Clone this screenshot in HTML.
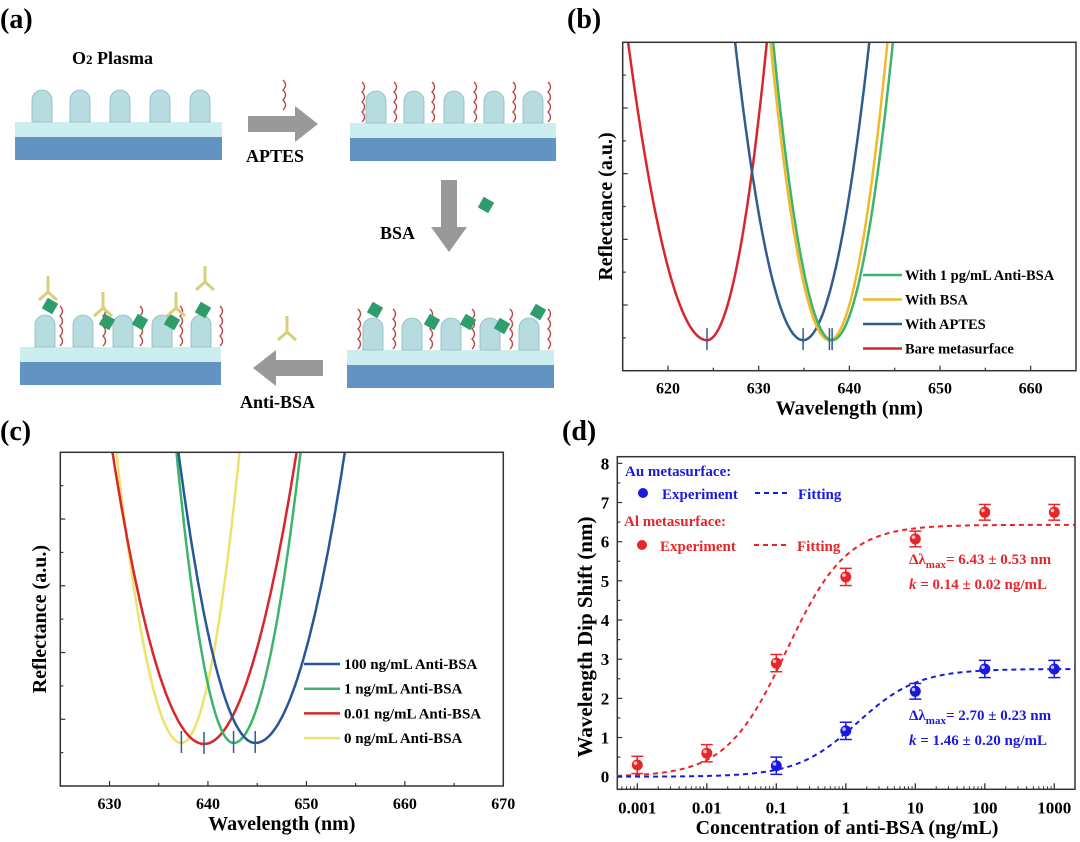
<!DOCTYPE html>
<html><head><meta charset="utf-8"><style>
html,body{margin:0;padding:0;background:#fff;}
svg{display:block;font-family:"Liberation Serif",serif;font-weight:bold;}
</style></head><body>
<svg id="fig" width="1080" height="842" viewBox="0 0 1080 842" xmlns="http://www.w3.org/2000/svg">
<g id="panelA">
<text x="0" y="28" font-size="28">(a)</text>
<text x="72" y="64" font-size="18">O<tspan font-size="13">2</tspan> Plasma</text>
<text x="246" y="162" font-size="18">APTES</text>
<text x="380" y="239" font-size="18">BSA</text>
<text x="240" y="408" font-size="18">Anti-BSA</text>
<polygon points="248,116 295,116 295,106 318,124 295,142 295,132 248,132" fill="#999"/>
<polygon points="441,180 457,180 457,227 467,227 449,252 431,227 441,227" fill="#999"/>
<polygon points="323,360 276,360 276,350 253,368 276,386 276,376 323,376" fill="#999"/>
</g>
<g id="panelB"></g>
<g id="panelC"></g>
<g id="panelD"></g>
</svg>
<script>
// ---------- Panel b data ----------
var bSeries = ["With 1 pg/mL Anti-BSA","With BSA","With APTES","Bare metasurface"];
var bColors = ["#3cb56a","#f2b82c","#2e5d8e","#d8262a"];
var bDip = [638.1, 637.8, 634.9, 624.3];
var bMin = [0.93, 0.93, 0.93, 0.93];
var bHwLeft = [6.5, 6.5, 7.5, 8.7];
var bHwRight = [6.7, 6.4, 7.3, 6.6];
var bXTicks = [620,630,640,650,660];
// ---------- Panel c data ----------
var cSeries = ["100 ng/mL Anti-BSA","1 ng/mL Anti-BSA","0.01 ng/mL Anti-BSA","0 ng/mL Anti-BSA"];
var cColors = ["#25579a","#3cb56a","#d8262a","#eee36a"];
var cDip = [644.8, 642.6, 639.6, 637.3];
var cMin = [1.29, 1.29, 1.26, 1.29];
var cHwLeft = [7.8, 5.8, 9.3, 6.6];
var cHwRight = [9.1, 6.8, 9.4, 5.9];
var cXTicks = [630,640,650,660,670];
// ---------- Panel d data ----------
var dConcAl = [0.001,0.01,0.1,1,10,100,1000];
var dShiftAl = [0.3,0.6,2.9,5.1,6.07,6.75,6.75];
var dErrAl = [0.22,0.22,0.22,0.22,0.2,0.2,0.2];
var dConcAu = [0.1,1,10,100,1000];
var dShiftAu = [0.28,1.17,2.18,2.75,2.75];
var dErrAu = [0.22,0.22,0.2,0.22,0.22];
var dFitAl = [6.43, 0.14];
var dFitAu = [2.75, 1.46];
var dXTickLabels = ["0.001","0.01","0.1","1","10","100","1000"];
var dYTicks = [0,1,2,3,4,5,6,7,8];

var NS="http://www.w3.org/2000/svg";
function mk(parent,tag,attrs,text){var e=document.createElementNS(NS,tag);for(var k in attrs)e.setAttribute(k,attrs[k]);if(text!==undefined)e.textContent=text;parent.appendChild(e);return e;}

function spectrumPanel(g,id,box,xmin,xmax,xTicks,series,colors,dip,mins,hwl,hwr,leg,yTitleX,label,labelPos){
  var L=box[0],R=box[1],T=box[2],B=box[3];
  function sx(v){return L+(v-xmin)/(xmax-xmin)*(R-L);}
  function sy(v){return B-v/10*(B-T);}
  var lab=mk(g,'text',{x:labelPos[0],y:labelPos[1],'font-size':28},label);
  
  
  var cp=mk(g,'clipPath',{id:'clip'+id});mk(cp,'rect',{x:L,y:T,width:R-L,height:B-T});
  for(var s=series.length-1;s>=0;s--){
    var pts=[];
    for(var x=xmin;x<=xmax;x+=0.05){
      var hw=x<dip[s]?hwl[s]:hwr[s];
      var r=mins[s]+(10-mins[s])*Math.pow((x-dip[s])/hw,2);
      if(r>10.5) continue;
      pts.push(sx(x).toFixed(1)+','+sy(r).toFixed(1));
    }
    var pl=mk(g,'polyline',{points:pts.join(' '),fill:'none',stroke:colors[s],'stroke-width':2.5,'clip-path':'url(#clip'+id+')'});
    
    
  }
  for(var s=0;s<series.length;s++){
    var m=mk(g,'line',{x1:sx(dip[s]),x2:sx(dip[s]),y1:sy(mins[s])-12,y2:sy(mins[s])+10,stroke:'#2e5d8e','stroke-width':1.5});
    
    
  }
  var fr=mk(g,'rect',{x:L,y:T,width:R-L,height:B-T,fill:'none',stroke:'#333','stroke-width':1.5});
  
  
  for(var i=0;i<=9;i++){
    var y=sy(i), len=(i%2===0)?5:3;
    var t=mk(g,'line',{x1:L,x2:L+len,y1:y,y2:y,stroke:'#333','stroke-width':1.2});
    
    
  }
  for(var i=0;i<xTicks.length;i++){
    var x=sx(xTicks[i]);
    mk(g,'line',{x1:x,x2:x,y1:B,y2:B-5,stroke:'#333','stroke-width':1.2});
    var xm=sx(xTicks[i]+5); if(xm<R) mk(g,'line',{x1:xm,x2:xm,y1:B,y2:B-3,stroke:'#333','stroke-width':1.2});
    var tl=mk(g,'text',{x:x,y:B+23,'font-size':16,'text-anchor':'middle'},String(xTicks[i]));
    
    
  }
  var xt=mk(g,'text',{x:(L+R)/2,y:B+44,'font-size':20,'text-anchor':'middle'},'Wavelength (nm)');
  
  
  var yt=mk(g,'text',{x:0,y:0,'font-size':20,'text-anchor':'middle',transform:'translate('+yTitleX+','+((T+B)/2)+') rotate(-90)'},'Reflectance (a.u.)');
  
  
  for(var s=0;s<series.length;s++){
    var y=leg[2]+s*leg[3];
    var le=mk(g,'g',{});
    
    
    mk(le,'line',{x1:leg[0],x2:leg[0]+leg[4],y1:y,y2:y,stroke:colors[s],'stroke-width':2.5});
    mk(le,'text',{x:leg[1],y:y+5,'font-size':leg[5]},series[s]);
  }
}
spectrumPanel(document.getElementById('panelB'),'b',[622.7,1076,42.3,370.7],615,665,bXTicks,bSeries,bColors,bDip,bMin,bHwLeft,bHwRight,[863,905,275,24.5,39,14.5],612,'(b)',[567,28]);
spectrumPanel(document.getElementById('panelC'),'c',[60.3,503.3,452.3,786],625,670,cXTicks,cSeries,cColors,cDip,cMin,cHwLeft,cHwRight,[304,344,664,24.7,36,15],46,'(c)',[0,440]);

// ---------- Panel d ----------
(function(){
  var g=document.getElementById('panelD');
  var L=617.3,R=1075,T=456.7,B=789.3;
  var y0=776.7,unit=39.17,x0=637.3,dec=69.5;
  function sx(c){return x0+(Math.log10(c)+3)*dec;}
  function sy(v){return y0-v*unit;}
  var lab=mk(g,'text',{x:562,y:440,'font-size':28},'(d)');
  
  
  var fr=mk(g,'rect',{x:L,y:T,width:R-L,height:B-T,fill:'none',stroke:'#333','stroke-width':1.5});
  
  
  for(var i=0;i<dYTicks.length;i++){
    var y=sy(dYTicks[i]);
    mk(g,'line',{x1:L,x2:L+5,y1:y,y2:y,stroke:'#333','stroke-width':1.2});
    if(i<dYTicks.length-1) mk(g,'line',{x1:L,x2:L+3,y1:sy(dYTicks[i]+0.5),y2:sy(dYTicks[i]+0.5),stroke:'#333','stroke-width':1.2});
    var tl=mk(g,'text',{x:L-8,y:y+6,'font-size':17,'text-anchor':'end'},String(dYTicks[i]));
    
    
  }
  for(var i=0;i<dXTickLabels.length;i++){
    var c=parseFloat(dXTickLabels[i]);var x=sx(c);
    mk(g,'line',{x1:x,x2:x,y1:B,y2:B-6,stroke:'#333','stroke-width':1.3});
    var tl=mk(g,'text',{x:x,y:B+24,'font-size':17,'text-anchor':'middle'},dXTickLabels[i]);
    
    
  }
  for(var e=-4;e<=3;e++){for(var m=2;m<=9;m++){var x=sx(m*Math.pow(10,e));if(x>L&&x<R)mk(g,'line',{x1:x,x2:x,y1:B,y2:B-3,stroke:'#333','stroke-width':1});}}
  var xt=mk(g,'text',{x:847,y:834,'font-size':20,'text-anchor':'middle'},'Concentration of anti-BSA (ng/mL)');
  
  
  var yt=mk(g,'text',{x:0,y:0,'font-size':21,'text-anchor':'middle',transform:'translate(592,637) rotate(-90)'},'Wavelength Dip Shift (nm)');
  
  
  function fit(p,col,name){
    var pts=[];
    for(var lc=-3.29;lc<=3.3;lc+=0.02){var c=Math.pow(10,lc);pts.push(sx(c).toFixed(1)+','+sy(p[0]*c/(p[1]+c)).toFixed(1));}
    var pl=mk(g,'polyline',{points:pts.join(' '),fill:'none',stroke:col,'stroke-width':2,'stroke-dasharray':'5,4'});
    
    
  }
  function pts(cs,vs,es,col,name){
    for(var i=0;i<cs.length;i++){
      var x=sx(cs[i]),y=sy(vs[i]),e=es[i]*unit;
      var pg=mk(g,'g',{});
      
      
      mk(pg,'line',{x1:x,x2:x,y1:y-e,y2:y+e,stroke:col,'stroke-width':1.5});
      mk(pg,'line',{x1:x-6,x2:x+6,y1:y-e,y2:y-e,stroke:col,'stroke-width':1.5});
      mk(pg,'line',{x1:x-6,x2:x+6,y1:y+e,y2:y+e,stroke:col,'stroke-width':1.5});
      mk(pg,'circle',{cx:x,cy:y,r:5.5,fill:col});
      mk(pg,'circle',{cx:x-1.8,cy:y-1.8,r:1.8,fill:'#fff',opacity:0.7});
    }
  }
  fit(dFitAl,'#e8262a','fit-al');
  fit(dFitAu,'#1a1adf','fit-au');
  pts(dConcAl,dShiftAl,dErrAl,'#e8262a','point-al');
  pts(dConcAu,dShiftAu,dErrAu,'#1a1adf','point-au');
  var blue='#1a1adf',red='#e8262a';
  function t(x,y,s,col,txt,name){var e=mk(g,'text',{x:x,y:y,'font-size':s,fill:col},txt);return e;}
  t(625,476,15,blue,'Au metasurface:','legend-title-au');
  mk(g,'circle',{cx:643,cy:493,r:5,fill:blue});
  t(662,499,15,blue,'Experiment','legend-experiment-au');
  mk(g,'line',{x1:755,x2:790,y1:493,y2:493,stroke:blue,'stroke-width':2,'stroke-dasharray':'5,4'});
  t(798,499,15,blue,'Fitting','legend-fitting-au');
  t(624,526,15,red,'Al  metasurface:','legend-title-al');
  mk(g,'circle',{cx:642,cy:545,r:5,fill:red});
  t(660,551,15,red,'Experiment','legend-experiment-al');
  mk(g,'line',{x1:754,x2:788,y1:545,y2:545,stroke:red,'stroke-width':2,'stroke-dasharray':'5,4'});
  t(797,551,15,red,'Fitting','legend-fitting-al');
  var a1=t(909,564,15,red,'','annotation-al-max');a1.innerHTML='Δλ<tspan font-size="11" dy="4">max</tspan><tspan dy="-4">= 6.43 ± 0.53 nm</tspan>';
  var a2=t(909,589,15,red,'','annotation-al-k');a2.innerHTML='<tspan font-style="italic">k</tspan> = 0.14 ± 0.02 ng/mL';
  var a3=t(909,720,15,blue,'','annotation-au-max');a3.innerHTML='Δλ<tspan font-size="11" dy="4">max</tspan><tspan dy="-4">= 2.70 ± 0.23 nm</tspan>';
  var a4=t(909,745,15,blue,'','annotation-au-k');a4.innerHTML='<tspan font-style="italic">k</tspan> = 1.46 ± 0.20 ng/mL';
})();

// ---------- Panel a schematic ----------
(function(){
  var g=document.getElementById('panelA');
  function sub(x,y,w,pillars,name){
    var sg=mk(g,'g',{});
    
    
    mk(sg,'rect',{x:x,y:y,width:w,height:15,fill:'#cdeef0'});
    mk(sg,'rect',{x:x,y:y+15,width:w,height:23,fill:'#6393c3'});
    for(var i=0;i<pillars.length;i++){
      var px=pillars[i];
      mk(sg,'path',{d:'M'+(px-10)+','+y+' V'+(y-22)+' a10,10 0 0 1 20,0 V'+y+' Z',fill:'#b6dcdf',stroke:'#8fb9bd','stroke-width':0.8});
    }
  }
  sub(15,122,207,[42,80,120,160,200],'substrate-plasma');
  sub(350,123,206,[376,414,454,494,533],'substrate-aptes');
  sub(347,350,207,[373,412,451,490,529],'substrate-bsa');
  sub(20,347,201,[45,83,123,162,201],'substrate-anti-bsa');
  function wig(x,y1,y2){var d='M'+x+','+y1;for(var y=y1;y>y2;y-=10){d+=' q5,-5 0,-10';}mk(g,'path',{d:d,fill:'none',stroke:'#b84a4a','stroke-width':1.4});}
  [362,394,432,474,513,548].forEach(function(x){wig(x,122,90);});
  wig(283,110,80);
  [358,393,430,472,510,548].forEach(function(x){wig(x,349,315);});
  [60,103,140,180,220].forEach(function(x){wig(x,346,310);});
  function gem(x,y){mk(g,'rect',{x:x-6,y:y-6,width:12,height:12,fill:'#2f9d6b',transform:'rotate(30 '+x+' '+y+')'});}
  [[486,205],[375,310],[432,322],[468,322],[502,326],[538,312]].forEach(function(p){gem(p[0],p[1]);});
  [[50,306],[107,322],[140,322],[172,322],[203,310]].forEach(function(p){gem(p[0],p[1]);});
  function ab(x,y){mk(g,'path',{d:'M'+x+','+(y-24)+' V'+(y-8)+' M'+(x-9)+','+y+' L'+x+','+(y-8)+' L'+(x+9)+','+y,fill:'none',stroke:'#d8cf7a','stroke-width':3});}
  [[48,300],[103,316],[176,316],[205,290],[287,340]].forEach(function(p){ab(p[0],p[1]);});
})();
</script>
</body></html>
